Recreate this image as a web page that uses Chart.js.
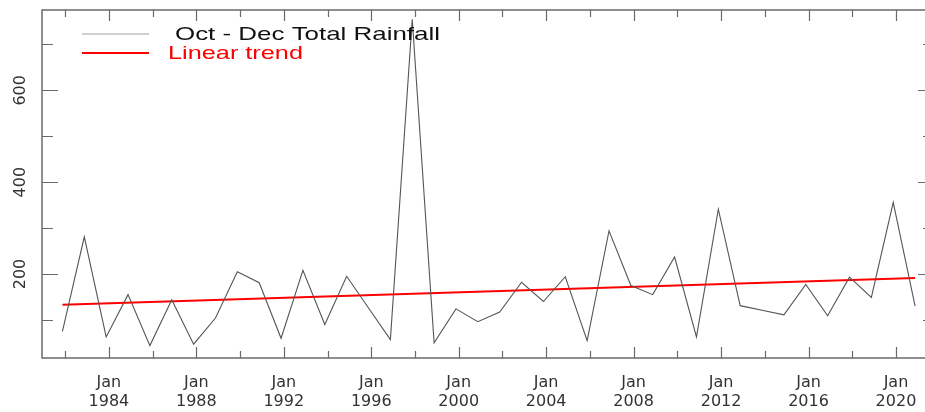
<!DOCTYPE html>
<html>
<head>
<meta charset="utf-8">
<script src="https://cdn.jsdelivr.net/npm/chart.js@4.4.0/dist/chart.umd.min.js"></script>
<style>
html, body { margin: 0; padding: 0; background: #fff; overflow: hidden; }
#wrap { position: relative; width: 935px; height: 412px; }
</style>
</head>
<body>
<div id="wrap"><canvas id="myChart"></canvas></div>
<script>
// Oct - Dec rainfall totals, one value per season (plotted mid-November)
const years = [1981, 1982, 1983, 1984, 1985, 1986, 1987, 1988, 1989, 1990,
	1991, 1992, 1993, 1994, 1995, 1996, 1997, 1998, 1999, 2000,
	2001, 2002, 2003, 2004, 2005, 2006, 2007, 2008, 2009, 2010,
	2011, 2012, 2013, 2014, 2015, 2016, 2017, 2018, 2019, 2020];
const rainfall = [75, 281, 63, 155, 44, 144, 47, 104, 205, 181,
	60, 208, 90, 195, 126, 57, 755, 50, 124, 96,
	117, 182, 140, 194, 55, 294, 175, 155, 237, 63,
	341, 131, 121, 111, 177, 109, 193, 149, 356, 130];
const trendYears = [1981, 2020];
const trendValues = [133, 191];

const xTickYears = [1982, 1984, 1986, 1988, 1990, 1992, 1994, 1996, 1998, 2000,
	2002, 2004, 2006, 2008, 2010, 2012, 2014, 2016, 2018, 2020];
const xLabelYears = [1984, 1988, 1992, 1996, 2000, 2004, 2008, 2012, 2016, 2020];
const yTickValues = [100, 200, 300, 400, 500, 600, 700];
const yLabelValues = [200, 400, 600];

const SERIES_LABEL = "Oct - Dec Total Rainfall";
const TREND_LABEL = "Linear trend";
const MID_SEASON = 10.5 / 12;

const AXIS_COLOR = "#6a6a6a";
const FONT = "'DejaVu Sans', 'Liberation Sans', sans-serif";

// border + inward tick marks on all four sides
const framePlugin = {
	id: "frame",
	afterDraw(chart) {
		const { ctx, chartArea: a, scales } = chart;
		ctx.save();
		ctx.strokeStyle = AXIS_COLOR;
		ctx.lineWidth = 1.5;
		ctx.strokeRect(a.left, a.top, a.right - a.left, a.bottom - a.top);
		ctx.lineWidth = 1.2;
		ctx.beginPath();
		xTickYears.forEach((yr) => {
			const x = Math.round(scales.x.getPixelForValue(yr)) + 0.5;
			const len = xLabelYears.includes(yr) ? 11 : 7;
			ctx.moveTo(x, a.bottom);
			ctx.lineTo(x, a.bottom - len);
			ctx.moveTo(x, a.top);
			ctx.lineTo(x, a.top + len);
		});
		yTickValues.forEach((v) => {
			const y = Math.round(scales.y.getPixelForValue(v)) + 0.5;
			const len = yLabelValues.includes(v) ? 16 : 11;
			ctx.moveTo(a.left, y);
			ctx.lineTo(a.left + len, y);
			ctx.moveTo(a.right, y);
			ctx.lineTo(a.right - len, y);
		});
		ctx.stroke();
		ctx.restore();
	},
};

function legendText(ctx, text, x, y, width) {
	const w = ctx.measureText(text).width;
	ctx.save();
	ctx.translate(x, y);
	ctx.scale(width / w, 1);
	ctx.fillText(text, 0, 0);
	ctx.restore();
}

const legendPlugin = {
	id: "plotLegend",
	afterDraw(chart) {
		const { ctx } = chart;
		ctx.save();
		ctx.font = "19px 'Liberation Sans', Arial, sans-serif";
		ctx.textBaseline = "middle";
		ctx.textAlign = "left";

		ctx.strokeStyle = "#a0a0a0";
		ctx.lineWidth = 1.2;
		ctx.beginPath();
		ctx.moveTo(82, 34);
		ctx.lineTo(149, 34);
		ctx.stroke();
		ctx.fillStyle = "#111";
		legendText(ctx, SERIES_LABEL, 175, 35, 265);

		ctx.strokeStyle = "#ff0000";
		ctx.lineWidth = 2;
		ctx.beginPath();
		ctx.moveTo(82, 53);
		ctx.lineTo(149, 53);
		ctx.stroke();
		ctx.fillStyle = "#ff0000";
		legendText(ctx, TREND_LABEL, 168, 54, 135);
		ctx.restore();
	},
};

function drawChart() {
	const ctx = document.getElementById("myChart");
	new Chart(ctx, {
		type: "line",
		data: {
			datasets: [
				{
					label: SERIES_LABEL,
					data: years.map((yr, i) => ({ x: yr + MID_SEASON, y: rainfall[i] })),
					borderColor: "#555555",
					borderWidth: 1.1,
					pointRadius: 0,
					tension: 0,
				},
				{
					label: TREND_LABEL,
					data: trendYears.map((yr, i) => ({ x: yr + MID_SEASON, y: trendValues[i] })),
					borderColor: "#ff0000",
					borderWidth: 2,
					pointRadius: 0,
				},
			],
		},
		options: {
			responsive: true,
			maintainAspectRatio: false,
			animation: false,
			layout: {
				padding: { top: 10, right: 1, left: 0, bottom: 0 },
			},
			plugins: {
				legend: { display: false },
				tooltip: { enabled: false },
			},
			scales: {
				x: {
					type: "linear",
					min: 1980.94,
					max: 2021.74,
					grid: { display: false },
					border: { display: false },
					afterBuildTicks: (scale) => {
						scale.ticks = xTickYears.map((v) => ({ value: v }));
					},
					afterFit: (scale) => {
						scale.height = 54;
						scale.paddingLeft = 0;
						scale.paddingRight = 0;
					},
					ticks: {
						autoSkip: false,
						maxRotation: 0,
						minRotation: 0,
						padding: 8,
						color: "#333",
						font: { family: FONT, size: 16, lineHeight: 1.15 },
						callback: (value) => (xLabelYears.includes(value) ? ["Jan", String(value)] : ""),
					},
				},
				y: {
					min: 17,
					max: 775,
					grid: { display: false },
					border: { display: false },
					afterBuildTicks: (scale) => {
						scale.ticks = yTickValues.map((v) => ({ value: v }));
					},
					afterFit: (scale) => {
						scale.width = 42;
						scale.paddingTop = 0;
						scale.paddingBottom = 0;
					},
					ticks: {
						minRotation: 90,
						maxRotation: 90,
						crossAlign: "center",
						padding: -2,
						color: "#333",
						font: { family: FONT, size: 16 },
						callback: (value) => (yLabelValues.includes(value) ? String(value) : ""),
					},
				},
			},
		},
		plugins: [framePlugin, legendPlugin],
	});
}

drawChart();
</script>
</body>
</html>
